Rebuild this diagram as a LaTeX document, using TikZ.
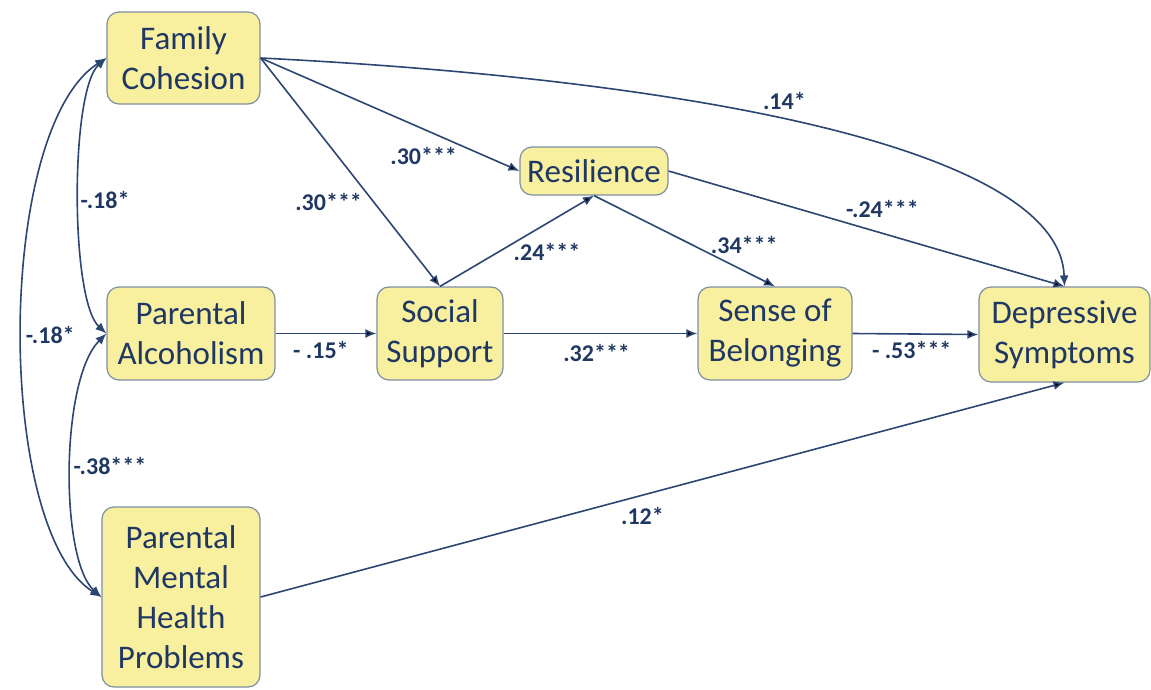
\documentclass[tikz,border=0pt]{standalone}
\usepackage{fontspec}
\setmainfont{Carlito}[BoldFont={* Bold}]
\usetikzlibrary{arrows.meta}
\definecolor{boxfill}{HTML}{F8EF9F}
\definecolor{boxline}{HTML}{7D8FA3}
\definecolor{ink}{HTML}{1F3763}
\definecolor{wirecol}{HTML}{2C4673}
\begin{document}
\begin{tikzpicture}[x=1pt,y=-1pt,>={Latex[length=11pt,width=9pt]},
  var/.style={draw=boxline,fill=boxfill,line width=1.2pt,rounded corners=12pt,text=ink,align=center,inner sep=0pt,font=\fontsize{33}{40}\selectfont},
  wire/.style={draw=wirecol,line width=1.6pt},
  coef/.style={text=ink,inner sep=0pt,font=\fontsize{24}{28}\selectfont\bfseries}]
\useasboundingbox (0,0) rectangle (1151,689);

\node[var,minimum width=153pt,minimum height=92pt] (fc) at (183.5,58) {Family\\Cohesion};
\node[var,minimum width=168pt,minimum height=93pt] (pa) at (191,333.5) {Parental\\Alcoholism};
\node[var,minimum width=158pt,minimum height=180pt] (pm) at (181,597) {Parental\\Mental\\Health\\Problems};
\node[var,minimum width=126pt,minimum height=93pt] (ss) at (440,333.5) {Social\\Support};
\node[var,minimum width=148pt,minimum height=48pt] (res) at (594,171) {Resilience};
\node[var,minimum width=154pt,minimum height=93pt] (sb) at (775,333.5) {Sense of\\Belonging};
\node[var,minimum width=171pt,minimum height=95pt] (ds) at (1064.5,334.5) {Depressive\\Symptoms};

\path[wire] (fc.east) edge[->] node[coef,pos=.63,yshift=-27pt] {.30***} (res.west);
\path[wire] (fc.east) edge[->] node[coef,pos=.63,xshift=-45pt] {.30***} (ss.north);
\path[wire] (ss.north) edge[->] node[coef,pos=.695,yshift=-29pt] {.24***} (res.south);
\path[wire] (res.south) edge[->] node[coef,pos=.83,yshift=26pt] {.34***} (sb.north);
\path[wire] (res.east) edge[->] node[coef,pos=.54,yshift=24pt] {-.24***} (ds.north);
\path[wire] (pa.east) edge[->] node[coef,pos=.45,yshift=-16pt] {- .15*} (ss.west);
\path[wire] (ss.east) edge[->] node[coef,pos=.48,yshift=-19pt] {.32***} (sb.west);
\path[wire] (sb.east) edge[->] node[coef,pos=.47,yshift=-16pt] {- .53***} (ds.west);
\path[wire] (pm.east) edge[->] node[coef,pos=.475,yshift=-21pt] {.12*} (ds.south);
\draw[wire,->] (fc.east) .. controls (700,80) and (1060,150) .. node[coef,pos=.45,xshift=4pt,yshift=18pt] {.14*} (ds.north);

\draw[wire,<->] (fc.west) .. controls (70,90) and (70,300) .. node[coef,pos=.5,xshift=26pt,yshift=-5pt] {-.18*} (pa.west);
\draw[wire,<->] (fc.west) .. controls (-5,130) and (-5,530) .. node[coef,pos=.5,xshift=28pt,yshift=-6pt] {-.18*} (pm.west);
\draw[wire,<->] (pa.west) .. controls (60,380) and (60,560) .. node[coef,pos=.5,xshift=39pt,yshift=3pt] {-.38***} (pm.west);
\end{tikzpicture}
\end{document}
